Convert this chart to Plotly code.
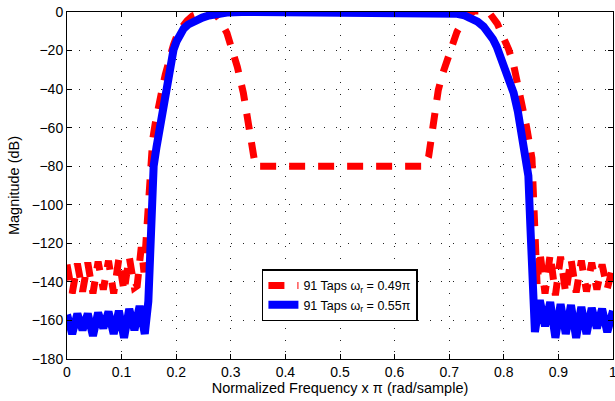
import plotly.graph_objects as go

# ---- data ----
freq_red = [
    0.000, 0.0095, 0.019, 0.0285, 0.038, 0.0475, 0.057, 0.0665, 0.076, 0.0855,
    0.095, 0.1045, 0.114, 0.1235, 0.1285, 0.136, 0.141, 0.145, 0.1485, 0.1526,
    0.157, 0.1617, 0.167, 0.174, 0.180, 0.186, 0.195, 0.2044, 0.212, 0.22,
    0.23, 0.241, 0.255, 0.268, 0.28, 0.293, 0.303, 0.312, 0.323, 0.332,
    0.341, 0.345, 0.5, 0.655, 0.6623, 0.6714, 0.680, 0.688, 0.696, 0.705,
    0.7143, 0.727, 0.745, 0.76, 0.775, 0.788, 0.7997, 0.809, 0.818, 0.824,
    0.830, 0.836, 0.842, 0.8516, 0.855, 0.858, 0.861, 0.866, 0.8755, 0.885,
    0.8945, 0.904, 0.9135, 0.923, 0.9325, 0.942, 0.9515, 0.961, 0.9705, 0.980,
    0.9895, 1.000,
]
mag_red = [
    -131, -146, -130.5, -145, -130, -146, -129.5, -144, -129, -146,
    -128, -145, -127, -143, -142, -122, -135, -118, -100, -76.8,
    -66, -57.7, -48.5, -40.5, -32.5, -25.8, -17, -10.2, -7, -4.5,
    -2, -0.7, 0.5, 0.5, -4, -11, -19, -28.5, -42, -59,
    -75, -80, -80, -80, -75, -54.3, -40.5, -32, -24.9, -17,
    -10.2, -4, 0.5, 0.5, -1, -6, -12.8, -19.5, -27.5, -35,
    -43, -51, -60, -75.9, -95, -120, -142, -124, -146, -125.5,
    -147, -127, -146, -128, -145.5, -129, -145, -130, -144, -131,
    -143.5, -132,
]

freq_blue = [
    0.000, 0.0095, 0.019, 0.0285, 0.038, 0.0475, 0.057, 0.0665, 0.076, 0.0855,
    0.095, 0.1045, 0.114, 0.1235, 0.133, 0.1425, 0.149, 0.1525, 0.155, 0.1587,
    0.164, 0.1697, 0.175, 0.180, 0.187, 0.195, 0.201, 0.2075, 0.214, 0.222,
    0.230, 0.238, 0.248, 0.26, 0.275, 0.293, 0.32, 0.5, 0.68, 0.70,
    0.715, 0.728, 0.740, 0.752, 0.763, 0.772, 0.78, 0.787, 0.7936, 0.800,
    0.806, 0.812, 0.818, 0.826, 0.833, 0.840, 0.845, 0.8485, 0.851, 0.853,
    0.857, 0.866, 0.8755, 0.885, 0.8945, 0.904, 0.9135, 0.923, 0.9325, 0.942,
    0.9515, 0.961, 0.9705, 0.980, 0.9895, 1.000,
]
mag_blue = [
    -157, -167, -156.5, -165, -156.5, -168, -156, -164, -155.5, -167,
    -155, -169, -154, -165, -152.5, -167, -150, -125, -100, -80,
    -70, -59.5, -50, -40.5, -30, -19.7, -15, -11, -8.5, -6.5,
    -5.2, -4.1, -2.9, -1.8, -0.9, -0.3, 0, 0, 0, -0.3,
    -0.9, -1.8, -3, -5, -7.6, -10.5, -14, -18, -23, -27.5,
    -32, -37, -42, -52, -63, -75, -85, -110, -135, -148,
    -166, -149.5, -163, -150.5, -169, -151.5, -167, -152, -169, -153,
    -167, -153.5, -164, -154, -166, -155,
]

x_ticks = [0, 0.1, 0.2, 0.3, 0.4, 0.5, 0.6, 0.7, 0.8, 0.9, 1.0]
x_tick_text = ["0", "0.1", "0.2", "0.3", "0.4", "0.5", "0.6", "0.7", "0.8", "0.9", "1"]
y_ticks = [-180, -160, -140, -120, -100, -80, -60, -40, -20, 0]

name_red = "91 Taps ω<sub>r</sub> = 0.49π"
name_blue = "91 Taps ω<sub>r</sub> = 0.55π"

FONT = "Liberation Sans"

fig = go.Figure()
fig.add_trace(go.Scatter(
    x=freq_red, y=mag_red, mode="lines", name=name_red, legendgroup="a",
    line=dict(color="#ff0000", width=7, dash="16px,13px"),
))
fig.add_trace(go.Scatter(
    x=freq_blue, y=mag_blue, mode="lines", name=name_blue, legendgroup="b",
    line=dict(color="#0000ff", width=8),
))

axis_common = dict(
    showline=True, linecolor="black", linewidth=1, mirror="ticks",
    ticks="inside", ticklen=5, tickcolor="black", tickwidth=1,
    showgrid=True, gridcolor="#222222", gridwidth=1, griddash="1px,10.7px",
    zeroline=False, automargin=False, ticklabeloverflow="allow",
    tickfont=dict(family=FONT, size=14, color="black"),
)

fig.update_xaxes(
    range=[0, 1], tickvals=x_ticks, ticktext=x_tick_text,
    title=dict(text="Normalized Frequency x π (rad/sample)",
               font=dict(family=FONT, size=14.5, color="black"), standoff=3),
    **axis_common,
)
fig.update_yaxes(
    range=[-180, 0], tickvals=y_ticks,
    title=dict(text="Magnitude (dB)",
               font=dict(family=FONT, size=14.5, color="black"), standoff=8),
    **axis_common,
)

fig.update_layout(
    width=615, height=401,
    margin=dict(l=67, r=2, t=12, b=42, pad=0),
    paper_bgcolor="white", plot_bgcolor="white",
    font=dict(family=FONT, color="black"),
    showlegend=True,
    legend=dict(
        x=0.357, y=0.258, xanchor="left", yanchor="top",
        bgcolor="white", bordercolor="black", borderwidth=1.5,
        font=dict(family=FONT, size=12.5, color="black"),
        tracegroupgap=0, traceorder="grouped",
    ),
)

fig.write_html(
    "out.html",
    config={"displayModeBar": False},
    post_script="document.body.style.margin='0px';document.body.style.overflow='hidden';",
)
